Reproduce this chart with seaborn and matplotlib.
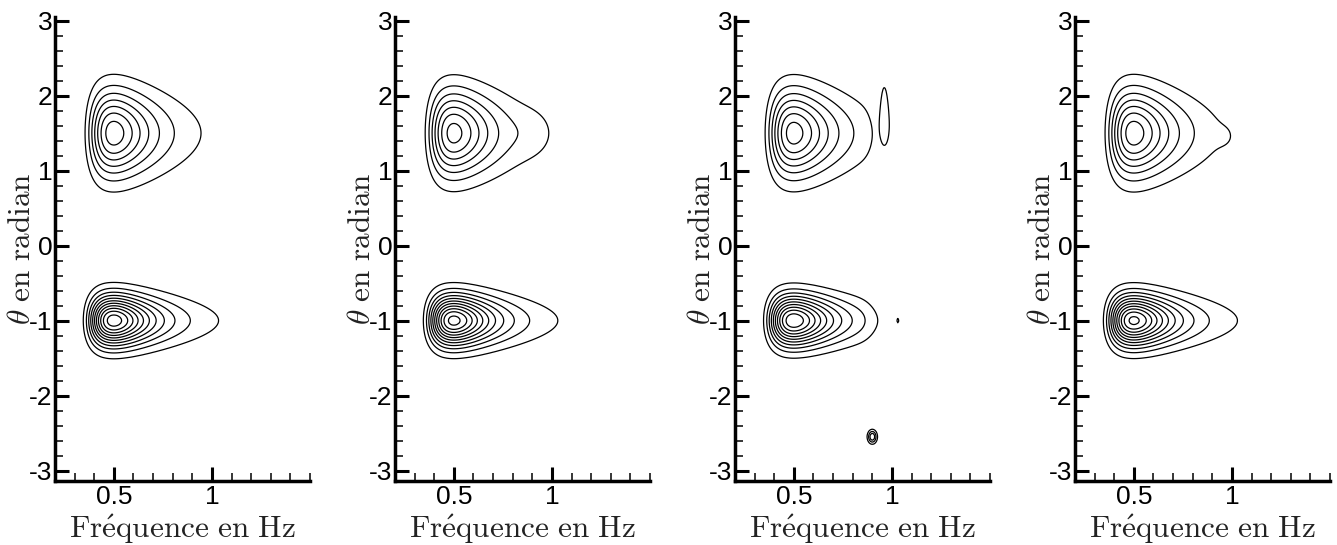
import numpy as np
import matplotlib
matplotlib.use('Agg')
import matplotlib.pyplot as plt
import seaborn as sns
from matplotlib.ticker import MultipleLocator

sns.set_theme(style='ticks')
plt.rcParams['font.family'] = ['Liberation Sans', 'DejaVu Sans']
plt.rcParams['mathtext.fontset'] = 'cm'
plt.rcParams['axes.unicode_minus'] = False

# deux systemes de houle : frequence de pic (Hz), direction moyenne (rad), etalement (rad)
peak_freq = [0.5, 0.5]
peak_dir = [1.5, -1.0]
dir_spread = [0.39, 0.23]

# amplitude des pics pour chaque panneau (spectre de reference + 3 estimations)
peak_amp = [[7.6, 11.6], [7.4, 11.4], [7.5, 10.8], [7.6, 11.3]]

# perturbations des estimations : (f, theta, amplitude, sigma_f, sigma_theta)
extra_bumps = [
    [],
    [(0.9, 1.5, 0.4, 0.07, 0.22)],
    [(0.93, 1.6, -0.35, 0.035, 0.5), (0.96, 1.9, 1.0, 0.02, 0.4),
     (0.95, -1.0, -0.6, 0.05, 0.35), (1.03, -1.0, 0.3, 0.006, 0.04),
     (0.9, -2.55, 4.0, 0.016, 0.06)],
    [(0.97, 1.45, 0.25, 0.04, 0.12)],
]

levels = np.arange(1, 13)
xtick_vals = [0.5, 1]
xtick_labels = ['0.5', '1']
ytick_vals = [-3, -2, -1, 0, 1, 2, 3]
ytick_labels = ['-3', '-2', '-1', '0', '1', '2', '3']

freqs = np.arange(0.2, 1.501, 0.005)
thetas = np.linspace(-np.pi, np.pi, 257)
F, T = np.meshgrid(freqs, thetas)


def spectre(i):
    E = np.zeros_like(F)
    for fp, th, s, a in zip(peak_freq, peak_dir, dir_spread, peak_amp[i]):
        r = fp / F
        S = r**5 * np.exp(-1.25 * (r**4 - 1))
        D = np.exp(-(T - th)**2 / (2 * s**2))
        E += a * S * D
    for f0, t0, a, sf, st in extra_bumps[i]:
        E += a * np.exp(-(F - f0)**2 / (2 * sf**2) - (T - t0)**2 / (2 * st**2))
    return E


fig = plt.figure(figsize=(13.37, 5.45), dpi=100)
W, H = 1337.0, 545.0
lefts = [55, 395, 735, 1075]

for i, lx in enumerate(lefts):
    ax = fig.add_axes([lx / W, 64 / H, 255 / W, 464 / H])
    ax.contour(F, T, spectre(i), levels=levels, colors='black', linewidths=0.9)
    ax.set_xlim(0.2, 1.5)
    ax.set_ylim(-3.14, 3.05)
    sns.despine(ax=ax)
    for sp in ['left', 'bottom']:
        ax.spines[sp].set_linewidth(2.5)
        ax.spines[sp].set_color('black')
    ax.set_xticks(xtick_vals)
    ax.set_xticklabels(xtick_labels)
    ax.set_yticks(ytick_vals)
    ax.set_yticklabels(ytick_labels)
    ax.xaxis.set_minor_locator(MultipleLocator(0.1))
    ax.yaxis.set_minor_locator(MultipleLocator(0.2))
    ax.tick_params(which='major', direction='in', length=10, width=2.2,
                   labelsize=19, color='black', labelcolor='black')
    ax.tick_params(axis='y', which='major', pad=2)
    ax.tick_params(axis='x', which='major', pad=3)
    ax.tick_params(which='minor', direction='in', length=6, width=1.1, color='black')
    ax.set_xlabel(r"$\mathrm{Fr\'{e}quence\ en\ Hz}$", fontsize=22.5, color='#222222', labelpad=2)
    ax.set_ylabel(r'$\theta\ \mathrm{en\ radian}$', fontsize=22.5, color='#222222')
    ax.yaxis.set_label_coords(-0.072, 0.5)
    ax.set_facecolor('white')

fig.savefig('out.png', dpi=100, facecolor='white')
